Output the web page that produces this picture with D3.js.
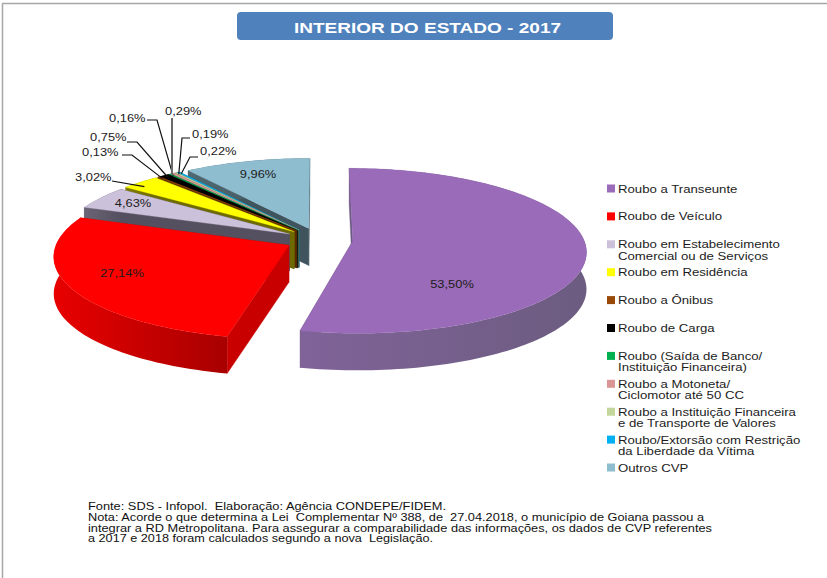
<!DOCTYPE html>
<html><head><meta charset="utf-8">
<script src="https://cdn.jsdelivr.net/npm/d3@7"></script>
<style>html,body{margin:0;padding:0;background:#fff}svg{display:block}text{font-family:"Liberation Sans",Arial,sans-serif;white-space:pre}</style>
</head><body><svg id="c" width="827" height="578"></svg>
<script>
const titleText = "INTERIOR DO ESTADO - 2017";
const categories = ["Roubo a Transeunte","Roubo de Veículo","Roubo em Estabelecimento\nComercial ou de Serviços","Roubo em Residência","Roubo a Ônibus","Roubo de Carga","Roubo (Saída de Banco/\nInstituição Financeira)","Roubo a Motoneta/\nCiclomotor até 50 CC","Roubo a Instituição Financeira\ne de Transporte de Valores","Roubo/Extorsão com Restrição\nda Liberdade da Vítima","Outros CVP"];
const values = [53.50,27.14,4.63,3.02,0.13,0.75,0.16,0.29,0.19,0.22,9.96];
const colors = ["#9A6BB8","#FF0000","#CCC1DA","#FFFF00","#984807","#000000","#00B050","#D99694","#C3D69B","#00B0F0","#8FBDD0"];
const faceColors = ["#6E5A85","#C80000","#55505F","#6E6A00","#5A2A00","#111111","#006030","#806060","#708060","#006890","#40545E"];
const rimLeft = ["#806399","#E80000","#6A6474","#807C00","#5A2A00","#111111","#006030","#806060","#708060","#006890","#50686F"];
const rimRight = ["#6C5C80","#A80000","#55505F","#6E6A00","#5A2A00","#111111","#006030","#806060","#708060","#006890","#40545E"];
const insideLabels = {0:[452,288],1:[122,277],2:[133,207],10:[258,178]};
const calloutLabels = {3:[75,181,112,181],4:[82,156,132,155],5:[90,141,137,142],6:[109,122,157,120],7:[165,115,172,118],8:[192,138,182,138],9:[200,155,190,157]};
const sourceLines = ["Fonte: SDS - Infopol.  Elaboração: Agência CONDEPE/FIDEM.","Nota: Acorde o que determina a Lei  Complementar Nº 388, de  27.04.2018, o município de Goiana passou a","integrar a RD Metropolitana. Para assegurar a comparabilidade das informações, os dados de CVP referentes","a 2017 e 2018 foram calculados segundo a nova  Legislação."];
const sourceWidths = [358,616,624,345];

const svg = d3.select("#c");
const xStretch = 1.2;
function label(g,str,x,y,size,opts={}){
  return g.append("text").attr("transform",`translate(${x},${y}) scale(${opts.sx||xStretch},1)`)
    .attr("font-size",size).attr("fill",opts.fill||"#1c1c1c").attr("font-weight",opts.weight||null).attr("text-anchor",opts.anchor||"start").text(str);
}
svg.append("path").attr("d","M2.5,578V3.5H827").attr("fill","none").attr("stroke","#a6a6a6").attr("stroke-width",1.5);
svg.append("rect").attr("x",237).attr("y",12).attr("width",376).attr("height",28).attr("rx",4).attr("fill","#4F81BD");
label(svg,titleText,427.5,32.5,15,{fill:"#fff",weight:"bold",anchor:"middle",sx:1.27});

const pieGen = d3.pie().sort(null).startAngle(0).endAngle(2*Math.PI);
const arcs = pieGen(values);
const R=231, RY=81, PERSP=0.12, EXPLODE=0.147, CX=319, CY=239.6, DEPTH=37;
const px = d3.scaleLinear().domain([0,1]).range([CX,CX+R]);
const py = d3.scaleLinear().domain([0,1]).range([CY,CY-RY]);
function proj(a,mid,r=1){
  const X=EXPLODE*Math.sin(mid)+r*Math.sin(a), Y=EXPLODE*Math.cos(mid)+r*Math.cos(a), p=1/(1+PERSP*Y);
  return [px(X*p),py(Y*p)];
}
const line=d3.line();
const defs=svg.append("defs");
const pie=svg.append("g");
const drawOrder=[10,9,8,7,6,5,4,3,2,1,0];
drawOrder.forEach(i=>{
  const d=arcs[i], mid=(d.startAngle+d.endAngle)/2;
  const step=(d.endAngle-d.startAngle)/Math.max(2,Math.ceil((d.endAngle-d.startAngle)*40));
  const angs=d3.range(d.startAngle,d.endAngle+step/2,step);
  const outer=angs.map(a=>proj(a,mid));
  const apex=proj(0,mid,0);
  const down=p=>[p[0],p[1]+DEPTH];
  const g=pie.append("g");
  const face=(pt)=>g.append("path").attr("d",line([apex,pt,down(pt),down(apex)])+"Z").attr("fill",faceColors[i]).attr("stroke",faceColors[i]).attr("stroke-width",.4);
  face(outer[0]); face(outer[outer.length-1]);
  const gid="rim"+i;
  const xs=d3.extent(outer,p=>p[0]);
  const gr=defs.append("linearGradient").attr("id",gid).attr("gradientUnits","userSpaceOnUse").attr("x1",xs[0]).attr("x2",xs[1]).attr("y1",0).attr("y2",0);
  gr.append("stop").attr("offset",0).attr("stop-color",rimLeft[i]);
  gr.append("stop").attr("offset",1).attr("stop-color",rimRight[i]);
  g.append("path").attr("d",line(outer.concat(outer.map(down).reverse()))+"Z").attr("fill",`url(#${gid})`);
  g.append("path").attr("d",line([apex,...outer])+"Z").attr("fill",colors[i]).attr("stroke",colors[i]).attr("stroke-width",.3);
});

const fmt=v=>v.toFixed(2).replace(".",",")+"%";
Object.entries(calloutLabels).forEach(([k,c])=>{
  const i=+k,d=arcs[i],mid=(d.startAngle+d.endAngle)/2;
  const tip=proj(mid,mid,0.97);
  label(svg,fmt(values[i]),c[0],c[1],11,{sx:1.17});
  const pts = i===3 ? [[c[2],c[3]],[tip[0],tip[1]+3]] : i===7 ? [[c[2],c[3]],[c[2],tip[1]]] : [[c[2]+(i>7?8:-10),c[3]],[c[2],c[3]],tip];
  svg.append("path").attr("d",line(pts)).attr("fill","none").attr("stroke",i===7?"#6a6a6a":"#111").attr("stroke-width",i===7?2:1.2);
});
Object.entries(insideLabels).forEach(([k,c])=>label(svg,fmt(values[+k]),c[0],c[1],11,{anchor:"middle",sx:1.17}));

const legendY=d3.scalePoint().domain(d3.range(categories.length)).range([188.5,467.5]);
const lg=svg.append("g");
categories.forEach((c,i)=>{
  const y=legendY(i);
  lg.append("rect").attr("x",607).attr("y",y-4).attr("width",8).attr("height",8).attr("fill",colors[i]);
  c.split("\n").forEach((l,j)=>label(lg,l,618,y+4+j*11.2,11));
});
sourceLines.forEach((l,i)=>{
  svg.append("text").attr("x",88).attr("y",[510,521,531.5,542][i]).attr("font-size",10.5).attr("fill","#111")
    .attr("textLength",sourceWidths[i]).attr("lengthAdjust","spacingAndGlyphs").text(l);
});
</script></body></html>
